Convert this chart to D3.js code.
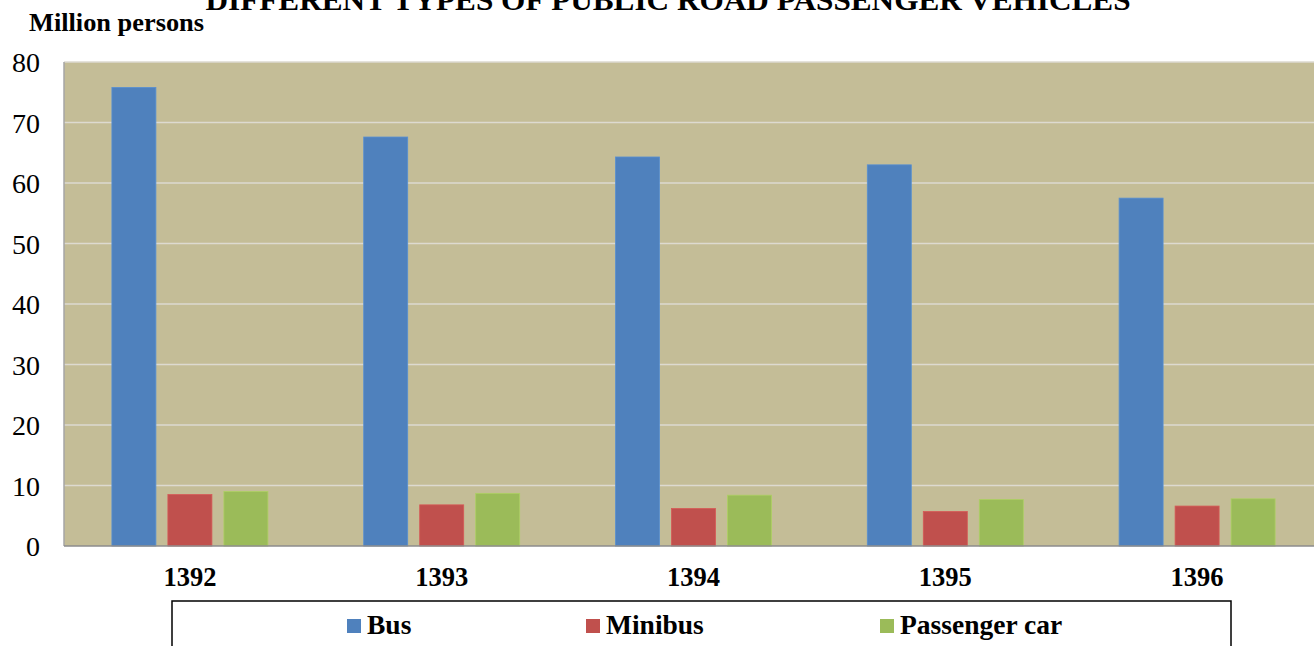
<!DOCTYPE html>
<html>
<head>
<meta charset="utf-8">
<script src="https://cdn.jsdelivr.net/npm/d3@7"></script>
<style>
  html, body { margin: 0; padding: 0; background: #fff; }
  svg { display: block; }
  text { font-family: "Liberation Serif", "Times New Roman", serif; }
</style>
</head>
<body>
<svg id="chart" width="1314" height="646"></svg>
<script>
const title = "DIFFERENT TYPES OF PUBLIC ROAD PASSENGER VEHICLES";
const yAxisTitle = "Million persons";
const categories = ["1392", "1393", "1394", "1395", "1396"];
const seriesNames = ["Bus", "Minibus", "Passenger car"];
const busValues = [75.8, 67.6, 64.3, 63.0, 57.5];
const minibusValues = [8.5, 6.8, 6.2, 5.7, 6.6];
const passengerCarValues = [9.0, 8.7, 8.4, 7.7, 7.8];
const yTicks = [0, 10, 20, 30, 40, 50, 60, 70, 80];

const seriesValues = [busValues, minibusValues, passengerCarValues];
const colors = ["#4F81BD", "#C0504D", "#9BBB59"];

const svg = d3.select("#chart");
const plot = { left: 64, right: 1323, top: 62, bottom: 546 };

const x0 = d3.scaleBand().domain(categories).range([plot.left, plot.right]).padding(0);
const groupW = 156;
const x1 = d3.scaleBand().domain(seriesNames).range([0, groupW]).paddingInner(12 / 56).paddingOuter(0);
const y = d3.scaleLinear().domain([0, 80]).range([plot.bottom, plot.top]);

// plot background
svg.append("rect")
  .attr("x", plot.left).attr("y", plot.top)
  .attr("width", plot.right - plot.left).attr("height", plot.bottom - plot.top)
  .attr("fill", "#C4BD97");

// gridlines
svg.append("g").selectAll("line")
  .data(yTicks.filter(t => t > 0))
  .join("line")
  .attr("x1", plot.left).attr("x2", plot.right)
  .attr("y1", d => y(d)).attr("y2", d => y(d))
  .attr("stroke", "#DDDAD0").attr("stroke-width", 1.5);

// bars
const data = [];
categories.forEach((c, i) => {
  seriesNames.forEach((s, j) => data.push({ c, s, v: seriesValues[j][i], color: colors[j] }));
});
svg.append("g").selectAll("rect")
  .data(data)
  .join("rect")
  .attr("x", d => x0(d.c) + (x0.bandwidth() - groupW) / 2 + x1(d.s))
  .attr("y", d => y(d.v))
  .attr("width", x1.bandwidth())
  .attr("height", d => y(0) - y(d.v))
  .attr("fill", d => d.color)
  .attr("stroke", d => d3.color(d.color).brighter(0.3))
  .attr("stroke-width", 0.8);

// axes lines
svg.append("line")
  .attr("x1", plot.left).attr("x2", plot.left)
  .attr("y1", plot.top).attr("y2", plot.bottom)
  .attr("stroke", "#A6A6A6").attr("stroke-width", 1.5);
svg.append("line")
  .attr("x1", plot.left).attr("x2", plot.right)
  .attr("y1", plot.bottom).attr("y2", plot.bottom)
  .attr("stroke", "#8C8C8C").attr("stroke-width", 1.5);

// y axis
const yAxis = d3.axisLeft(y).tickValues(yTicks).tickSize(0).tickPadding(0).tickFormat(d3.format("d"));
const gy = svg.append("g").attr("transform", `translate(40,0)`).call(yAxis);
gy.select(".domain").remove();
gy.selectAll("text")
  .attr("x", 0).attr("dy", "0.35em")
  .style("font-family", '"Liberation Serif", serif')
  .style("font-size", "28px").attr("fill", "#000");

// x axis
const xAxis = d3.axisBottom(x0).tickSize(0).tickPadding(0);
const gx = svg.append("g").attr("transform", `translate(0,${plot.bottom})`).call(xAxis);
gx.select(".domain").remove();
gx.selectAll("text")
  .attr("y", 40).attr("dy", 0)
  .style("font-family", '"Liberation Serif", serif')
  .style("font-size", "26.5px").style("font-weight", "bold").attr("fill", "#000");

// title
svg.append("text")
  .attr("x", 668).attr("y", 10)
  .attr("text-anchor", "middle")
  .attr("textLength", 925).attr("lengthAdjust", "spacingAndGlyphs")
  .style("font-size", "30px").style("font-weight", "bold")
  .text(title);

// y axis title
svg.append("text")
  .attr("x", 29).attr("y", 31)
  .attr("textLength", 175).attr("lengthAdjust", "spacingAndGlyphs")
  .style("font-size", "25px").style("font-weight", "bold")
  .text(yAxisTitle);

// legend
svg.append("rect")
  .attr("x", 172).attr("y", 601)
  .attr("width", 1059).attr("height", 80)
  .attr("fill", "none").attr("stroke", "#000").attr("stroke-width", 1.5);
const legendX = [347, 586, 880];
const lg = svg.append("g").selectAll("g")
  .data(seriesNames)
  .join("g")
  .attr("transform", (d, i) => `translate(${legendX[i]},619)`);
lg.append("rect").attr("width", 14).attr("height", 14).attr("fill", (d, i) => colors[i]);
lg.append("text").attr("x", 20).attr("y", 15)
  .style("font-size", "27.5px").style("font-weight", "bold")
  .text(d => d);
</script>
</body>
</html>
